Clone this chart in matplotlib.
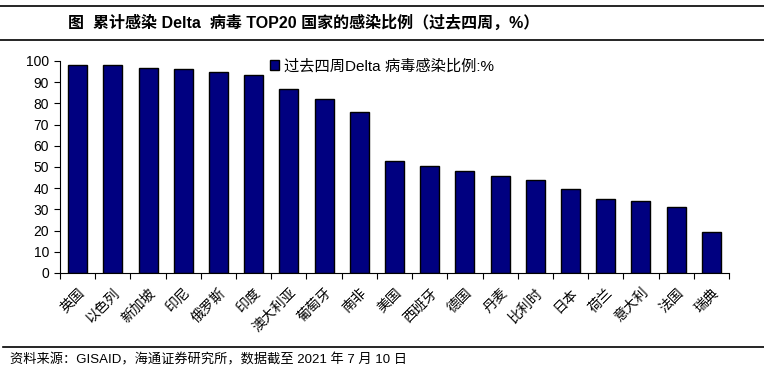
import matplotlib.pyplot as plt
from matplotlib.lines import Line2D

plt.rcParams['font.family'] = ['Liberation Sans', 'Noto Sans CJK SC']

# Top 19 countries by Delta share over the past four weeks (%)
countries = ['英国', '以色列', '新加坡', '印尼', '俄罗斯', '印度', '澳大利亚', '葡萄牙',
             '南非', '美国', '西班牙', '德国', '丹麦', '比利时', '日本', '荷兰',
             '意大利', '法国', '瑞典']
delta_share = [98.2, 98.1, 96.8, 96.3, 95.0, 93.5, 86.8, 82.2, 76.1, 53.0,
               50.7, 48.3, 45.7, 43.9, 39.4, 35.1, 33.9, 31.1, 19.3]
series_label = '过去四周Delta 病毒感染比例:%'
title = '图  累计感染 Delta  病毒 TOP20 国家的感染比例（过去四周，%）'
source = '资料来源：GISAID，海通证券研究所，数据截至 2021 年 7 月 10 日'

W, H = 764, 373
fig = plt.figure(figsize=(W / 100, H / 100), dpi=100)
ax = fig.add_axes([60 / W, 1 - 273 / H, (729 - 60) / W, (273 - 61) / H])

x = list(range(len(countries)))
ax.bar(x, delta_share, width=0.54, color='#000080', edgecolor='black',
       linewidth=1.0, label=series_label)

ax.set_xlim(-0.5, len(countries) - 0.5)
ax.set_ylim(0, 100)
ax.set_yticks(range(0, 101, 10))
ax.tick_params(axis='y', labelsize=10, length=4, direction='out', pad=4)

# ticks sit between categories, labels under the bars
ax.set_xticks([i - 0.5 for i in range(len(countries) + 1)])
ax.set_xticklabels([])
ax.set_xticks(x, minor=True)
ax.set_xticklabels(countries, minor=True, rotation=45, ha='right',
                   rotation_mode='anchor', fontsize=10)
ax.tick_params(axis='x', which='major', length=4, direction='out')
ax.tick_params(axis='x', which='minor', length=0, pad=9)

for s in ['top', 'right']:
    ax.spines[s].set_visible(False)
for s in ['left', 'bottom']:
    ax.spines[s].set_linewidth(0.8)

ax.legend(loc='center left', bbox_to_anchor=(270 / W, 1 - 66 / H),
          bbox_transform=fig.transFigure, frameon=False, fontsize=11,
          handlelength=0.6, handleheight=0.6, handletextpad=0.3,
          borderaxespad=0, borderpad=0)

# header / footer rules and texts
fig.add_artist(Line2D([0, 1], [1 - 6 / H, 1 - 6 / H], color='black', lw=1.2))
fig.add_artist(Line2D([0, 1], [1 - 40 / H, 1 - 40 / H], color='black', lw=1.2))
fig.add_artist(Line2D([3 / W, 1], [1 - 347 / H, 1 - 347 / H], color='black', lw=1.2))
fig.text(68 / W, 1 - 23 / H, title, fontsize=11.5, fontweight='bold',
         ha='left', va='center')
fig.text(10 / W, 1 - 360 / H, source, fontsize=9.5, ha='left', va='center')

fig.savefig('out.png', dpi=100)
